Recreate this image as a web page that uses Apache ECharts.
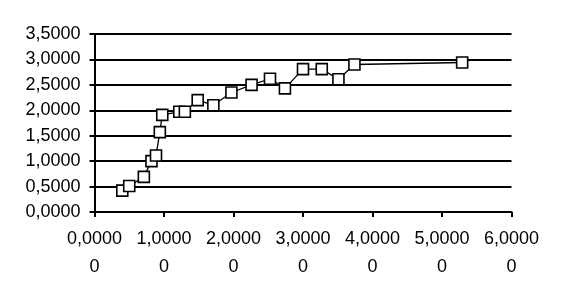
<!DOCTYPE html>
<html><head><meta charset="utf-8">
<script src="https://cdn.jsdelivr.net/npm/echarts@6/dist/echarts.min.js"></script>
<style>html,body{margin:0;padding:0;background:#fff}#c{width:570px;height:307px}</style>
</head><body><div id="c"></div>
<script>
const xValues = [0.40, 0.50, 0.71, 0.82, 0.885, 0.94, 0.975, 1.22, 1.30, 1.485, 1.71, 1.97, 2.26, 2.525, 2.74, 3.00, 3.27, 3.51, 3.74, 5.29];
const yValues = [0.42, 0.51, 0.69, 1.00, 1.11, 1.57, 1.91, 1.97, 1.97, 2.20, 2.10, 2.35, 2.50, 2.62, 2.43, 2.81, 2.81, 2.61, 2.90, 2.94];
const xTickLabels = ['0,0000\n0','1,0000\n0','2,0000\n0','3,0000\n0','4,0000\n0','5,0000\n0','6,0000\n0'];
const yTickLabels = ['0,0000','0,5000','1,0000','1,5000','2,0000','2,5000','3,0000','3,5000'];

const chart = echarts.init(document.getElementById('c'), null, {renderer:'canvas'});
const font = 'Liberation Sans, Arial, sans-serif';
chart.setOption({
  animation:false,
  backgroundColor:'#fff',
  grid:{left:94.5, right:58.5, top:34, bottom:95, containLabel:false},
  xAxis:{type:'value', min:0, max:6, interval:1,
    axisLine:{show:true, onZero:false, lineStyle:{color:'#000', width:2}},
    axisTick:{show:true, length:5, lineStyle:{color:'#000', width:2}},
    splitLine:{show:false},
    axisLabel:{color:'#000', fontSize:18, fontFamily:font, margin:13, lineHeight:28,
      formatter:(v)=>xTickLabels[Math.round(v)]}},
  yAxis:{type:'value', min:0, max:3.5, interval:0.5,
    axisLine:{show:true, onZero:false, lineStyle:{color:'#000', width:2}},
    axisTick:{show:true, length:5, lineStyle:{color:'#000', width:2}},
    splitLine:{show:true, lineStyle:{color:'#000', width:2}},
    axisLabel:{color:'#000', fontSize:18, fontFamily:font, margin:14,
      formatter:(v)=>yTickLabels[Math.round(v*2)]}},
  series:[{type:'line', data:xValues.map((x,i)=>[x,yValues[i]]),
    symbol:'rect', symbolSize:11, showAllSymbol:true,
    lineStyle:{color:'#000', width:1.3},
    itemStyle:{color:'#fff', borderColor:'#000', borderWidth:1.6}}]
});
</script></body></html>
